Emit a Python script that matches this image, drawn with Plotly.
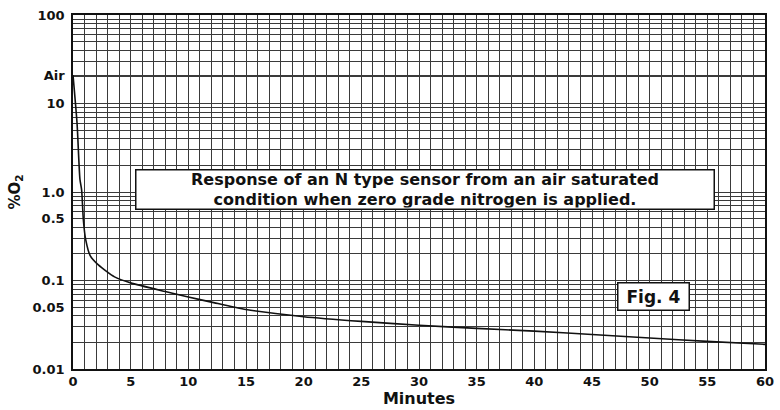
import plotly.graph_objects as go

# Data
minutes = [0, 0.35, 0.6, 0.75, 0.9, 1.1, 1.5, 2.2, 3.6, 5, 8, 10, 12, 15, 20, 25, 30, 35, 40, 45, 50, 55, 60]
o2_pct = [20.9, 6.0, 1.4, 1.05, 0.48, 0.29, 0.19, 0.15, 0.11, 0.094, 0.075, 0.065, 0.057,
          0.047, 0.039, 0.0345, 0.0312, 0.0288, 0.0268, 0.0245, 0.0224, 0.0205, 0.019]

x_ticks = list(range(0, 61, 5))
y_tickvals = [0.01, 0.05, 0.1, 0.5, 1, 10, 20.9, 100]
y_ticktext = ["0.01", "0.05", "0.1", "0.5", "1.0", "10", "Air", "100"]
y_minor = [m * d for d in (0.01, 0.1, 1, 10) for m in range(2, 10)]

FONT = "DejaVu Sans"
GRID = "#3a3a3a"

fig = go.Figure()
fig.add_trace(go.Scatter(x=minutes, y=o2_pct, mode="lines", line_shape="spline",
                         line=dict(color="#111111", width=1.6, smoothing=0.6), showlegend=False,
                         hoverinfo="skip"))

fig.update_layout(
    width=780, height=410,
    margin=dict(l=73, r=15, t=15, b=41, autoexpand=False),
    paper_bgcolor="white", plot_bgcolor="white",
    font=dict(family=FONT, color="#111111"),
    xaxis=dict(
        range=[0, 60], tickvals=x_ticks, ticktext=[str(v) for v in x_ticks],
        showgrid=True, gridcolor=GRID, gridwidth=1, automargin=False,
        minor=dict(dtick=1, tick0=0, showgrid=True, gridcolor=GRID, gridwidth=1),
        showline=True, linecolor="#111111", linewidth=1.5, mirror=True,
        ticks="", zeroline=False,
        tickfont=dict(family=FONT, size=13, color="#111111", weight="bold"),
        title=dict(text="<b>Minutes</b>", standoff=1,
                   font=dict(family=FONT, size=16, color="#111111")),
    ),
    yaxis=dict(
        type="log", range=[-2, 2],
        tickvals=y_tickvals, ticktext=y_ticktext,
        showgrid=True, gridcolor=GRID, gridwidth=1, automargin=False,
        minor=dict(tickvals=y_minor, showgrid=True, gridcolor=GRID, gridwidth=1),
        showline=True, linecolor="#111111", linewidth=1.5, mirror=True,
        ticks="", zeroline=False, ticklabelstandoff=4,
        tickfont=dict(family=FONT, size=13, color="#111111", weight="bold"),
        title=dict(text="<b>%O<sub>2</sub></b>", standoff=8,
                   font=dict(family=FONT, size=15, color="#111111")),
    ),
)

fig.add_annotation(
    xref="paper", yref="paper", x=0.509, y=0.508,
    text="<b>Response of an N type sensor from an air saturated<br>condition when zero grade nitrogen is applied.</b>",
    showarrow=False, align="center",
    font=dict(family=FONT, size=16, color="#111111"),
    bgcolor="white", bordercolor="#111111", borderwidth=1.5, borderpad=1,
    width=575, height=36,
)
fig.add_annotation(
    xref="paper", yref="paper", x=0.891, y=0.164,
    text="<b>Fig. 4</b>", showarrow=False,
    font=dict(family=FONT, size=17, color="#111111"),
    bgcolor="white", bordercolor="#111111", borderwidth=1.5, borderpad=1,
    width=68, height=24,
)

fig.write_html("out.html", config={"displayModeBar": False},
               post_script="document.body.style.margin='0';document.body.style.overflow='hidden';")
